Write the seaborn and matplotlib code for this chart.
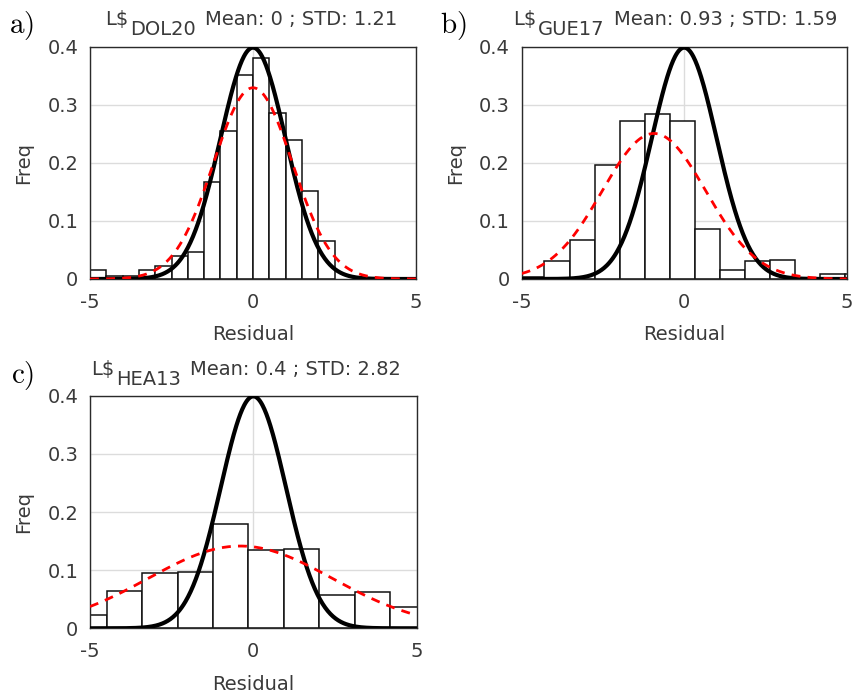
import numpy as np
import pandas as pd
import matplotlib
matplotlib.use("Agg")
import matplotlib.pyplot as plt
import matplotlib.transforms as mtransforms
import seaborn as sns

# ---------------- data ----------------
panel_tags = ["a)", "b)", "c)"]
subscripts = ["DOL20", "GUE17", "HEA13"]
title_means = ["0", "0.93", "0.4"]
title_stds = ["1.21", "1.59", "2.82"]
fit_centers = [0.0, -0.93, -0.4]      # centre of the red dashed fit curve
fit_stds = [1.21, 1.59, 2.82]
ref_mean, ref_std = 0.0, 1.0          # black reference normal curve

# histogram bins: first edge, bin width, bar heights (Freq)
bin_start_a, bin_width_a = -5.0, 0.5
freq_a = [0.016, 0.006, 0.005, 0.016, 0.022, 0.039, 0.046, 0.167,
          0.256, 0.351, 0.381, 0.287, 0.240, 0.152, 0.065]
bin_start_b, bin_width_b = -5.07, 0.771
freq_b = [0.003, 0.031, 0.067, 0.197, 0.273, 0.285, 0.273, 0.087,
          0.015, 0.031, 0.033, 0.0, 0.009, 0.009]
bin_start_c, bin_width_c = -5.57, 1.084
freq_c = [0.023, 0.065, 0.095, 0.097, 0.179, 0.134, 0.136, 0.058,
          0.062, 0.037]

x_ticks = [-5, 0, 5]
x_ticklabels = ["-5", "0", "5"]
y_ticks = [0, 0.1, 0.2, 0.3, 0.4]
y_ticklabels = ["0", "0.1", "0.2", "0.3", "0.4"]

# ---------------- style ----------------
sns.set_theme(style="whitegrid")
plt.rcParams["font.family"] = ["DejaVu Sans"]
TXT = "#3a3a3a"
FS = 14

W, H = 867, 697
fig = plt.figure(figsize=(W / 100, H / 100), dpi=100)
fig.patch.set_facecolor("white")


def px_axes(left, top, right, bottom):
    return fig.add_axes([left / W, 1 - bottom / H, (right - left) / W, (bottom - top) / H])


axes = [px_axes(90, 47, 416, 279), px_axes(521.7, 47, 846.7, 279), px_axes(90, 395.7, 416.7, 628.3)]
bins_info = [(bin_start_a, bin_width_a, freq_a), (bin_start_b, bin_width_b, freq_b),
             (bin_start_c, bin_width_c, freq_c)]

xs = np.linspace(-5, 5, 501)


def normal_pdf(x, mu, sd):
    return np.exp(-0.5 * ((x - mu) / sd) ** 2) / (sd * np.sqrt(2 * np.pi))


for i, ax in enumerate(axes):
    start, width, freq = bins_info[i]
    n = len(freq)
    edges = [start + width * k for k in range(n + 1)]
    df = pd.DataFrame({"center": [(edges[k] + edges[k + 1]) / 2 for k in range(n)],
                       "freq": freq})
    ax.set_facecolor("white")
    sns.histplot(data=df, x="center", weights="freq", bins=edges, stat="count", ax=ax,
                 color="white", edgecolor="#111111", linewidth=1.1, alpha=1, zorder=2)
    sns.lineplot(x=xs, y=normal_pdf(xs, ref_mean, ref_std), ax=ax, color="black",
                 lw=3.0, zorder=3)
    sns.lineplot(x=xs, y=normal_pdf(xs, fit_centers[i], fit_stds[i]), ax=ax, color="red",
                 lw=2.0, linestyle=(0, (3.2, 2.6)), zorder=4)
    ax.set_xlim(-5, 5)
    ax.set_ylim(0, 0.4)
    ax.set_xticks(x_ticks)
    ax.set_xticklabels(x_ticklabels)
    ax.set_yticks(y_ticks)
    ax.set_yticklabels(y_ticklabels)
    ax.set_axisbelow(True)
    ax.grid(True, color="#dcdcdc", lw=1.0)
    ax.tick_params(axis="both", direction="in", length=3, width=0.8, color="#555555",
                   labelsize=FS, labelcolor=TXT)
    ax.tick_params(axis="y", pad=8.5)
    ax.tick_params(axis="x", pad=10)
    for sp in ax.spines.values():
        sp.set_color("#2a2a2a")
        sp.set_linewidth(1.0)
    ax.set_ylabel("Freq", fontsize=FS, color=TXT)
    ax.yaxis.set_label_coords(-0.175, 0.5)
    ax.set_xlabel("Residual", fontsize=FS, color=TXT)
    ax.xaxis.set_label_coords(0.5, -0.2)

# ---------------- titles & panel tags (pixel positions) ----------------
ident = mtransforms.IdentityTransform()
renderer = fig.canvas.get_renderer()

title_centers = [251.5, 675, 246]
title_baselines = [25, 25, 375]
tag_pos = [(9, 33), (440, 33), (11, 383)]

for i in range(3):
    cx = title_centers[i]
    by = H - title_baselines[i]
    t1 = fig.text(0, by, "L$", fontsize=FS, color=TXT, transform=ident,
                  va="baseline", ha="left", parse_math=False)
    t2 = fig.text(0, by - 10, subscripts[i], fontsize=FS, color=TXT, transform=ident,
                  va="baseline", ha="left", parse_math=False)
    t3 = fig.text(0, by, f"Mean: {title_means[i]} ; STD: {title_stds[i]}", fontsize=FS,
                  color=TXT, transform=ident, va="baseline", ha="left", parse_math=False)
    w1 = t1.get_window_extent(renderer).width
    w2 = t2.get_window_extent(renderer).width
    w3 = t3.get_window_extent(renderer).width
    g1, g2 = 2, 9
    total = w1 + g1 + w2 + g2 + w3
    x0 = cx - total / 2
    t1.set_x(x0)
    t2.set_x(x0 + w1 + g1)
    t3.set_x(x0 + w1 + g1 + w2 + g2)
    tx, ty = tag_pos[i]
    fig.text(tx, H - ty, r"$\mathrm{" + panel_tags[i] + "}$", fontsize=21, color="black",
             transform=ident, va="baseline", ha="left", math_fontfamily="cm")

fig.savefig("out.png", dpi=100, facecolor="white")
